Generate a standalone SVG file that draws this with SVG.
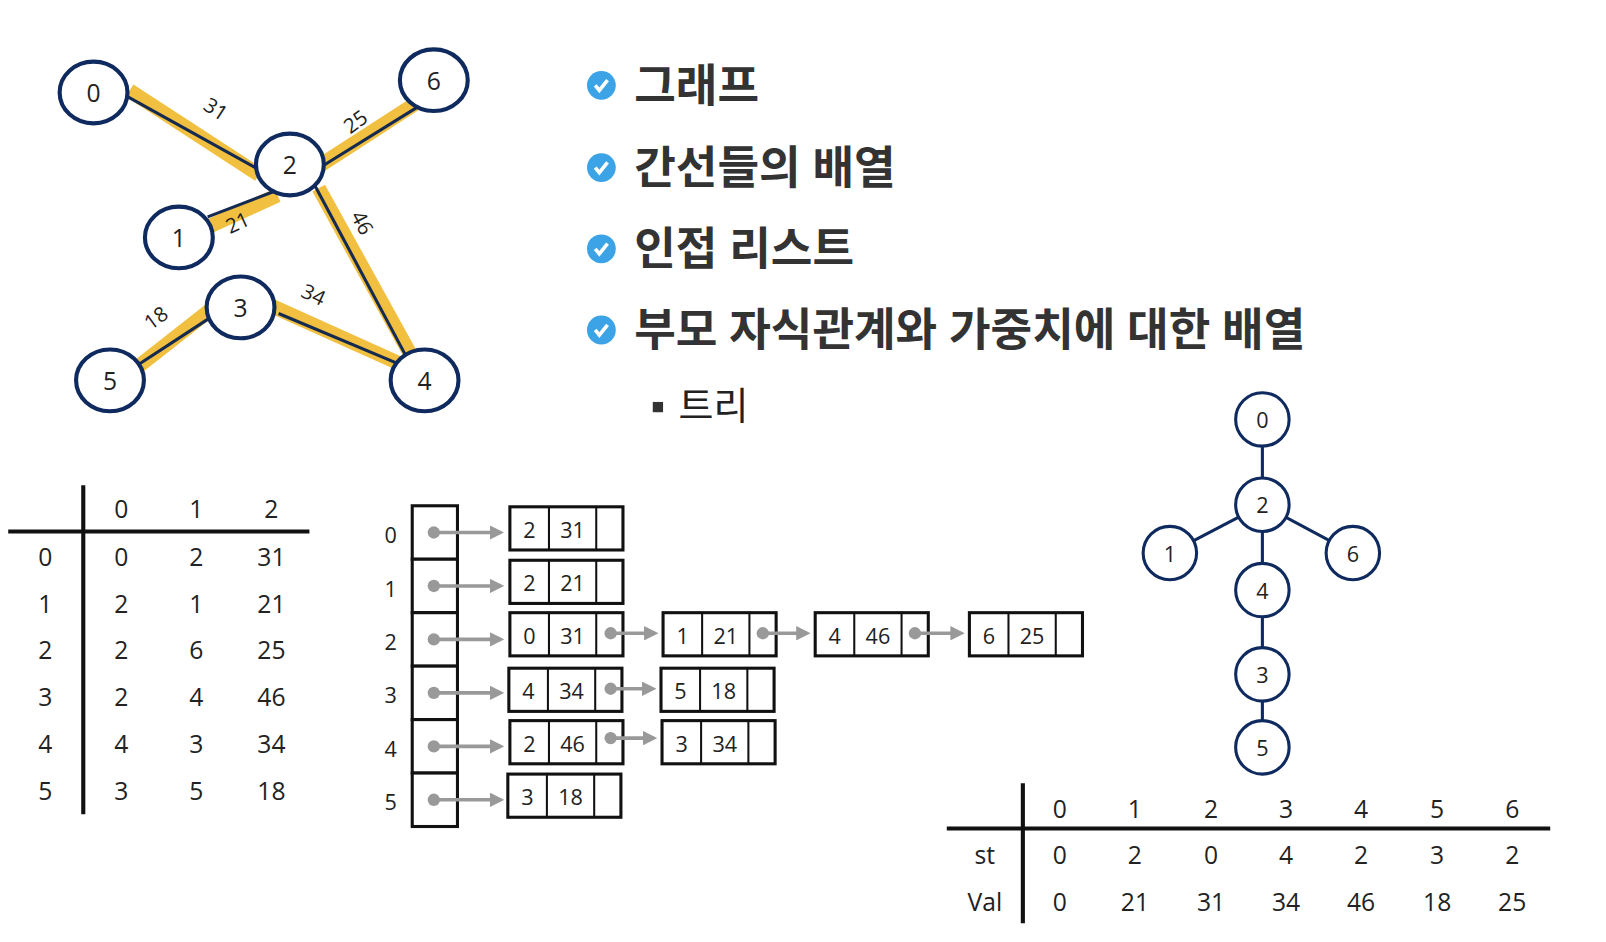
<svg xmlns="http://www.w3.org/2000/svg" width="1606" height="942" viewBox="0 0 1606 942">
<style>
text{font-family:"Open Sans","Noto Sans","Noto Sans CJK KR",sans-serif;fill:#222}
.n{fill:#fff;stroke:#0f2a5e;stroke-width:4}
.nt{font-size:24px;text-anchor:middle;dominant-baseline:central}
.y{stroke:#f2c040;stroke-width:14}
.d{stroke:#142a50;stroke-width:3}
.el{font-size:20px;text-anchor:middle}
.t{font-size:24px;text-anchor:middle;dominant-baseline:central}
.b{fill:#fff;stroke:#111;stroke-width:3}
.c{stroke:#111;stroke-width:2}
.lt{font-size:21px;text-anchor:middle;dominant-baseline:central}
.ar{stroke:#999;stroke-width:3.5;marker-end:url(#ah)}
.h{font-size:44px;font-weight:bold;fill:#333}
.tn{fill:#fff;stroke:#0f2a5e;stroke-width:3}
.te{stroke:#0f2a5e;stroke-width:3}
</style>
<defs>
<marker id="ah" markerWidth="4" markerHeight="4" refX="3" refY="2" orient="auto"><path d="M0,0L4,2L0,4z" fill="#999"/></marker>
<g id="chk"><circle r="14" fill="#3ba3e6"/><path d="M-6,0L-2,5L6,-5" fill="none" stroke="#fff" stroke-width="3.5"/></g>
</defs>
<g transform="scale(1.028)">
<g id="graphEdges">
<g class="y"><line x1="126" y1="88" x2="252" y2="170"/><line x1="305" y1="165" x2="410" y2="97"/><line x1="204" y1="220" x2="270" y2="190"/><line x1="310" y1="183" x2="405" y2="355"/><line x1="265" y1="298" x2="394" y2="356"/><line x1="130" y1="360" x2="204" y2="302"/></g>
<g class="d"><line x1="124" y1="94" x2="252" y2="165"/><line x1="313" y1="162" x2="408" y2="103"/><line x1="202" y1="211" x2="267" y2="186"/><line x1="306" y1="180" x2="398" y2="352"/><line x1="271" y1="305" x2="390" y2="355"/><line x1="134" y1="355" x2="206" y2="308"/></g>
<g class="te"><line x1="1228" y1="408" x2="1228" y2="727"/><line x1="1228" y1="491" x2="1138" y2="538"/><line x1="1228" y1="491" x2="1316" y2="538"/></g>
</g>
<g class="el">
<text transform="translate(206,112) rotate(33)">31</text>
<text transform="translate(350,124) rotate(-36)">25</text>
<text transform="translate(234,223) rotate(-25)">21</text>
<text transform="translate(346,220) rotate(62)">46</text>
<text transform="translate(302,293) rotate(25)">34</text>
<text transform="translate(156,315) rotate(-36)">18</text>
</g>
<g id="g0"><ellipse class="n" cx="91" cy="90" rx="33" ry="30"/><text class="nt" x="91" y="90">0</text></g>
<g id="g6"><ellipse class="n" cx="422" cy="78" rx="33" ry="30"/><text class="nt" x="422" y="78">6</text></g>
<g id="g2"><ellipse class="n" cx="282" cy="160" rx="33" ry="30"/><text class="nt" x="282" y="160">2</text></g>
<g id="g1"><ellipse class="n" cx="174" cy="231" rx="33" ry="30"/><text class="nt" x="174" y="231">1</text></g>
<g id="g3"><ellipse class="n" cx="234" cy="299" rx="33" ry="30"/><text class="nt" x="234" y="299">3</text></g>
<g id="g5"><ellipse class="n" cx="107" cy="370" rx="33" ry="30"/><text class="nt" x="107" y="370">5</text></g>
<g id="g4"><ellipse class="n" cx="413" cy="370" rx="33" ry="30"/><text class="nt" x="413" y="370">4</text></g>
<g id="bullets">
<use href="#chk" x="585" y="83"/><use href="#chk" x="585" y="163"/><use href="#chk" x="585" y="242"/><use href="#chk" x="585" y="321"/>
<text class="h" x="617" y="99">그래프</text>
<text class="h" x="617" y="179">간선들의 배열</text>
<text class="h" x="617" y="258">인접 리스트</text>
<text class="h" x="617" y="337">부모 자식관계와 가중치에 대한 배열</text>
<rect x="635" y="391" width="10" height="10" fill="#333"/>
<text x="660" y="408" font-size="37" fill="#333">트리</text>
</g>
<g id="tree">
<g><circle class="tn" cx="1228" cy="408" r="26"/><text class="lt" x="1228" y="408">0</text></g>
<g><circle class="tn" cx="1228" cy="491" r="26"/><text class="lt" x="1228" y="491">2</text></g>
<g><circle class="tn" cx="1138" cy="538" r="26"/><text class="lt" x="1138" y="538">1</text></g>
<g><circle class="tn" cx="1316" cy="538" r="26"/><text class="lt" x="1316" y="538">6</text></g>
<g><circle class="tn" cx="1228" cy="574" r="26"/><text class="lt" x="1228" y="574">4</text></g>
<g><circle class="tn" cx="1228" cy="656" r="26"/><text class="lt" x="1228" y="656">3</text></g>
<g><circle class="tn" cx="1228" cy="727" r="26"/><text class="lt" x="1228" y="727">5</text></g>
</g>
<g id="edgeTable">
<line x1="81" y1="472" x2="81" y2="792" stroke="#111" stroke-width="4"/>
<line x1="8" y1="517" x2="301" y2="517" stroke="#111" stroke-width="4"/>
<text class="t" x="118" y="495">0</text><text class="t" x="191" y="495">1</text><text class="t" x="264" y="495">2</text>
<text class="t" x="44" y="541">0</text><text class="t" x="118" y="541">0</text><text class="t" x="191" y="541">2</text><text class="t" x="264" y="541">31</text>
<text class="t" x="44" y="587">1</text><text class="t" x="118" y="587">2</text><text class="t" x="191" y="587">1</text><text class="t" x="264" y="587">21</text>
<text class="t" x="44" y="632">2</text><text class="t" x="118" y="632">2</text><text class="t" x="191" y="632">6</text><text class="t" x="264" y="632">25</text>
<text class="t" x="44" y="678">3</text><text class="t" x="118" y="678">2</text><text class="t" x="191" y="678">4</text><text class="t" x="264" y="678">46</text>
<text class="t" x="44" y="723">4</text><text class="t" x="118" y="723">4</text><text class="t" x="191" y="723">3</text><text class="t" x="264" y="723">34</text>
<text class="t" x="44" y="769">5</text><text class="t" x="118" y="769">3</text><text class="t" x="191" y="769">5</text><text class="t" x="264" y="769">18</text>
</g>
<g id="array">
<rect class="b" x="401" y="492" width="44" height="52"/><rect class="b" x="401" y="544" width="44" height="52"/><rect class="b" x="401" y="596" width="44" height="52"/><rect class="b" x="401" y="648" width="44" height="52"/><rect class="b" x="401" y="700" width="44" height="52"/><rect class="b" x="401" y="752" width="44" height="52"/>
<text class="lt" x="380" y="520">0</text><text class="lt" x="380" y="572">1</text><text class="lt" x="380" y="624">2</text><text class="lt" x="380" y="676">3</text><text class="lt" x="380" y="728">4</text><text class="lt" x="380" y="780">5</text>
</g>
<g id="lnodes">
<g transform="translate(496,493)"><rect class="b" width="110" height="42"/><line class="c" x1="38" y1="0" x2="38" y2="42"/><line class="c" x1="84" y1="0" x2="84" y2="42"/><text class="lt" x="19" y="22">2</text><text class="lt" x="61" y="22">31</text></g>
<g transform="translate(496,545)"><rect class="b" width="110" height="42"/><line class="c" x1="38" y1="0" x2="38" y2="42"/><line class="c" x1="84" y1="0" x2="84" y2="42"/><text class="lt" x="19" y="22">2</text><text class="lt" x="61" y="22">21</text></g>
<g transform="translate(496,596)"><rect class="b" width="110" height="42"/><line class="c" x1="38" y1="0" x2="38" y2="42"/><line class="c" x1="84" y1="0" x2="84" y2="42"/><text class="lt" x="19" y="22">0</text><text class="lt" x="61" y="22">31</text></g>
<g transform="translate(645,596)"><rect class="b" width="110" height="42"/><line class="c" x1="38" y1="0" x2="38" y2="42"/><line class="c" x1="84" y1="0" x2="84" y2="42"/><text class="lt" x="19" y="22">1</text><text class="lt" x="61" y="22">21</text></g>
<g transform="translate(793,596)"><rect class="b" width="110" height="42"/><line class="c" x1="38" y1="0" x2="38" y2="42"/><line class="c" x1="84" y1="0" x2="84" y2="42"/><text class="lt" x="19" y="22">4</text><text class="lt" x="61" y="22">46</text></g>
<g transform="translate(943,596)"><rect class="b" width="110" height="42"/><line class="c" x1="38" y1="0" x2="38" y2="42"/><line class="c" x1="84" y1="0" x2="84" y2="42"/><text class="lt" x="19" y="22">6</text><text class="lt" x="61" y="22">25</text></g>
<g transform="translate(495,650)"><rect class="b" width="110" height="42"/><line class="c" x1="38" y1="0" x2="38" y2="42"/><line class="c" x1="84" y1="0" x2="84" y2="42"/><text class="lt" x="19" y="22">4</text><text class="lt" x="61" y="22">34</text></g>
<g transform="translate(643,650)"><rect class="b" width="110" height="42"/><line class="c" x1="38" y1="0" x2="38" y2="42"/><line class="c" x1="84" y1="0" x2="84" y2="42"/><text class="lt" x="19" y="22">5</text><text class="lt" x="61" y="22">18</text></g>
<g transform="translate(496,701)"><rect class="b" width="110" height="42"/><line class="c" x1="38" y1="0" x2="38" y2="42"/><line class="c" x1="84" y1="0" x2="84" y2="42"/><text class="lt" x="19" y="22">2</text><text class="lt" x="61" y="22">46</text></g>
<g transform="translate(644,701)"><rect class="b" width="110" height="42"/><line class="c" x1="38" y1="0" x2="38" y2="42"/><line class="c" x1="84" y1="0" x2="84" y2="42"/><text class="lt" x="19" y="22">3</text><text class="lt" x="61" y="22">34</text></g>
<g transform="translate(494,753)"><rect class="b" width="110" height="42"/><line class="c" x1="38" y1="0" x2="38" y2="42"/><line class="c" x1="84" y1="0" x2="84" y2="42"/><text class="lt" x="19" y="22">3</text><text class="lt" x="61" y="22">18</text></g>
</g>
<g id="connectors">
<g class="ar"><line x1="422" y1="518" x2="487" y2="518"/><line x1="422" y1="570" x2="487" y2="570"/><line x1="422" y1="622" x2="487" y2="622"/><line x1="422" y1="674" x2="487" y2="674"/><line x1="422" y1="726" x2="487" y2="726"/><line x1="422" y1="778" x2="487" y2="778"/>
<line x1="594" y1="616" x2="637" y2="616"/><line x1="742" y1="616" x2="785" y2="616"/><line x1="890" y1="616" x2="935" y2="616"/><line x1="594" y1="670" x2="635" y2="670"/><line x1="594" y1="718" x2="636" y2="718"/></g>
<g fill="#999"><circle cx="422" cy="518" r="6"/><circle cx="422" cy="570" r="6"/><circle cx="422" cy="622" r="6"/><circle cx="422" cy="674" r="6"/><circle cx="422" cy="726" r="6"/><circle cx="422" cy="778" r="6"/><circle cx="594" cy="616" r="6"/><circle cx="742" cy="616" r="6"/><circle cx="890" cy="616" r="6"/><circle cx="594" cy="670" r="6"/><circle cx="594" cy="718" r="6"/></g>
</g>
<g id="parentTable">
<line x1="995" y1="762" x2="995" y2="898" stroke="#111" stroke-width="4"/>
<line x1="921" y1="806" x2="1508" y2="806" stroke="#111" stroke-width="4"/>
<text class="t" x="1031" y="786">0</text><text class="t" x="1104" y="786">1</text><text class="t" x="1178" y="786">2</text><text class="t" x="1251" y="786">3</text><text class="t" x="1324" y="786">4</text><text class="t" x="1398" y="786">5</text><text class="t" x="1471" y="786">6</text>
<text class="t" x="958" y="831">st</text><text class="t" x="1031" y="831">0</text><text class="t" x="1104" y="831">2</text><text class="t" x="1178" y="831">0</text><text class="t" x="1251" y="831">4</text><text class="t" x="1324" y="831">2</text><text class="t" x="1398" y="831">3</text><text class="t" x="1471" y="831">2</text>
<text class="t" x="958" y="877">Val</text><text class="t" x="1031" y="877">0</text><text class="t" x="1104" y="877">21</text><text class="t" x="1178" y="877">31</text><text class="t" x="1251" y="877">34</text><text class="t" x="1324" y="877">46</text><text class="t" x="1398" y="877">18</text><text class="t" x="1471" y="877">25</text>
</g>
</g>
</svg>
